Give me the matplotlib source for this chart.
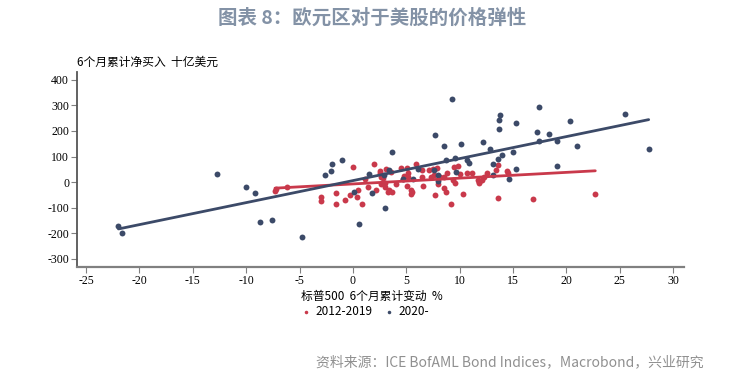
import numpy as np
import matplotlib.pyplot as plt

plt.rcParams['font.family'] = ['Noto Sans CJK SC', 'DejaVu Sans']
plt.rcParams['axes.unicode_minus'] = False

# 2012-2019 scatter (S&P 500 6m change %, 6m cumulative net buying bn USD)
red_x = [-7.2, -7.3, -6.2, -3.0, -3.0, -1.6, -1.6, -0.7, -0.3, 0.0, 0.4, 0.5, 0.85, 1.1, 1.4,
         2.0, 2.2, 2.5, 2.5, 2.65, 2.6, 2.8, 3.0, 3.05, 3.1, 3.3, 3.4, 3.6, 3.7, 4.05,
         4.5, 4.7, 4.8, 5.05, 5.1, 5.15, 5.2, 5.5, 5.45, 5.45, 5.9, 6.5, 6.5, 6.6, 7.1,
         7.3, 7.5, 7.6, 7.7, 7.85, 7.95, 8.2, 8.5, 8.5, 8.7, 8.8, 9.2, 9.4, 9.5, 9.6,
         9.8, 10.0, 10.35, 10.65, 11.15, 11.7, 11.8, 11.8, 12.1, 12.3, 12.6, 13.4, 13.6, 13.6, 14.4,
         14.5, 16.9, 22.7]
red_y = [-25, -33, -20, -57, -72, -42, -86, -70, -50, 59, -57, -31, -85, 14, -20,
         69, -31, 44, 35, 21, -8, 18, -3, -18, 53, -38, -31, 40, -38, -8,
         57, 14, 23, -16, 57, 36, 21, -38, -45, -29, 70, 47, 21, -16, 47,
         21, 53, 27, -51, 57, -8, 21, 21, -21, -38, 34, -87, 8, 60, -3,
         63, 31, -48, 36, 34, 8, 1, -5, 8, 21, 36, 47, 66, -61, 44,
         36, -64, -48]

# 2020- scatter
blue_x = [-21.96, -21.6, -12.7, -10.0, -9.2, -8.7, -7.6, -4.8, -2.6, -2.1, -2.0, -1.0, 0.1, 0.6, 1.5,
          1.75, 2.9, 3.05, 3.4, 3.7, 4.7, 5.6, 6.1, 7.6, 7.7, 8.0, 8.0, 8.5, 8.7, 9.3,
          9.6, 9.65, 10.1, 10.65, 10.9, 12.2, 12.8, 13.1, 13.1, 13.55, 13.65, 13.7, 13.8, 14.0, 14.6,
          15.0, 15.3, 15.3, 17.2, 17.45, 17.45, 18.4, 19.1, 19.1, 20.3, 21.0, 25.5, 27.7]
blue_y = [-171, -198, 30, -20, -42, -155, -149, -216, 27, 44, 69, 87, -38, -162, 33,
          -42, 27, -102, 46, 117, 14, 14, 50, 47, 183, 27, 4, 143, 86, 323,
          93, 40, 150, 86, 75, 157, 128, 27, 70, 91, 206, 242, 261, 107, 11,
          117, 232, 50, 194, 292, 160, 188, 160, 65, 237, 142, 267, 128]

# fitted lines: slope, intercept
red_fit = (2.26, -7.0)
blue_fit = (8.6, 6.0)

red_c = '#c9394b'
blue_c = '#3c4a68'
grey = '#808080'

fig = plt.figure(figsize=(7.45, 3.78), dpi=100)
ax = fig.add_axes([0.104, 0.294, 0.814, 0.516])

ax.scatter(red_x, red_y, s=18, color=red_c, zorder=3, label='2012-2019', linewidths=0)
ax.scatter(blue_x, blue_y, s=18, color=blue_c, zorder=3, label='2020-', linewidths=0)

for xs, fit, c in [(red_x, red_fit, red_c), (blue_x, blue_fit, blue_c)]:
    lx = np.array([min(xs), max(xs)])
    ax.plot(lx, fit[0] * lx + fit[1], color=c, lw=2.0, zorder=4, solid_capstyle='round')

ax.set_xlim(-25.8, 31.0)
ax.set_ylim(-331, 431)
ax.set_xticks(np.arange(-25, 31, 5))
ax.set_yticks(np.arange(-300, 401, 100))
for s in ['top', 'right']:
    ax.spines[s].set_visible(False)
ax.spines['left'].set_color('#555555')
ax.spines['bottom'].set_color(grey)
ax.spines['left'].set_linewidth(1.3)
ax.spines['bottom'].set_linewidth(1.6)
ax.tick_params(direction='out', length=4, width=0.8, color=grey, pad=2)
for lab in ax.get_xticklabels() + ax.get_yticklabels():
    lab.set_family('Liberation Serif')
    lab.set_fontsize(8.5)

fig.text(0.499, 0.952, '图表 8：欧元区对于美股的价格弹性', ha='center', va='center',
         fontsize=14, fontweight='bold', color='#8392a6')
fig.text(0.103, 0.834, '6个月累计净买入  十亿美元', ha='left', va='center', fontsize=8.5)
fig.text(0.499, 0.215, '标普500  6个月累计变动  %', ha='center', va='center', fontsize=8.5)
fig.text(0.944, 0.042, '资料来源：ICE BofAML Bond Indices，Macrobond，兴业研究', ha='right',
         va='center', fontsize=10, color='#909090')

fig.legend(loc='center', bbox_to_anchor=(0.49, 0.175), ncol=2, frameon=False,
           fontsize=8.5, handletextpad=0.4, columnspacing=1.0, markerscale=0.6,
           borderpad=0, handlelength=0.8)

fig.savefig('out.png', dpi=100)
